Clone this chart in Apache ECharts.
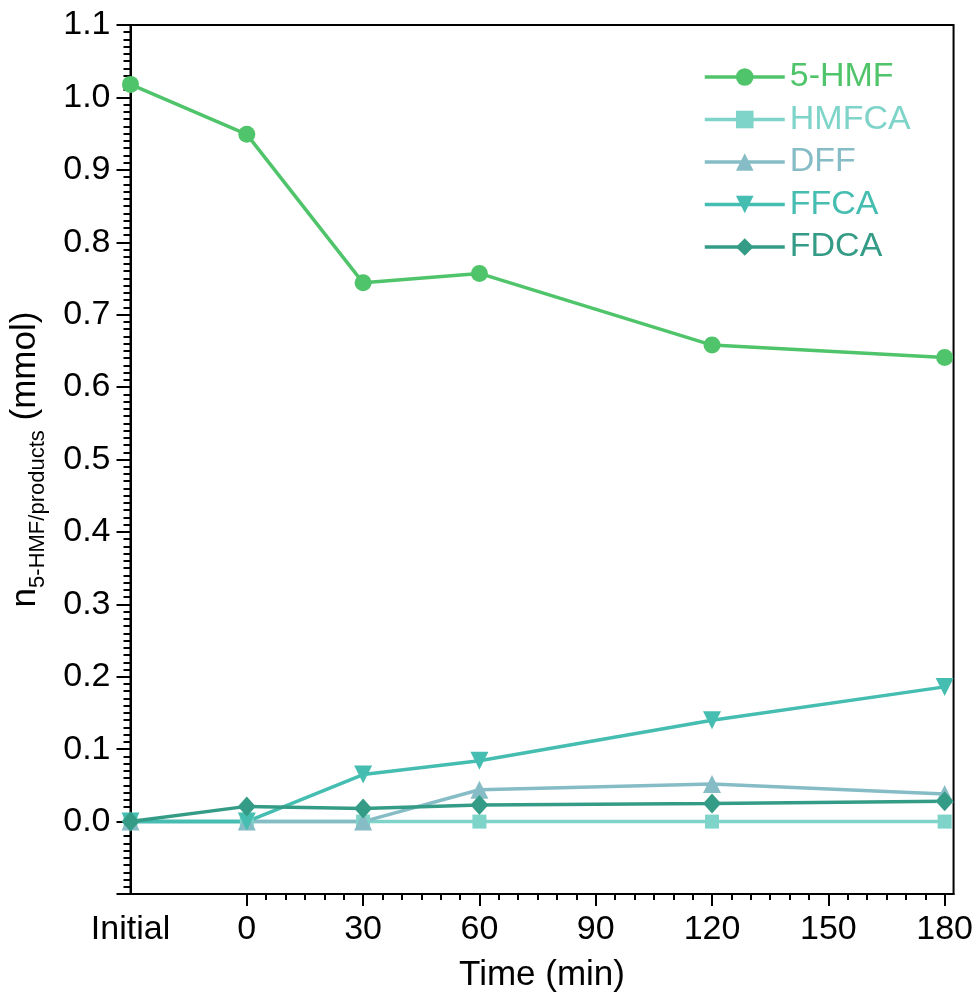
<!DOCTYPE html>
<html>
<head>
<meta charset="utf-8">
<script src="https://cdn.jsdelivr.net/npm/echarts@6/dist/echarts.min.js"></script>
<style>
html,body{margin:0;padding:0;background:#fff;}
#chart{width:976px;height:999px;}
</style>
</head>
<body>
<div id="chart"></div>
<script>
// x positions in minutes; -30 stands for the "Initial" sample
const timeValues = [-30, 0, 30, 60, 120, 180];
const seriesNames = ['5-HMF', 'HMFCA', 'DFF', 'FFCA', 'FDCA'];
const hmf   = [1.018, 0.949, 0.744, 0.757, 0.658, 0.641];
const hmfca = [0, 0, 0, 0, 0, 0];
const dff   = [0, 0, 0, 0.044, 0.052, 0.038];
const ffca  = [0, 0, 0.065, 0.084, 0.140, 0.186];
const fdca  = [0, 0.021, 0.018, 0.023, 0.025, 0.028];
const xMajorTicks = [0, 30, 60, 90, 120, 150, 180];
const xLabelValues = [-30, 0, 30, 60, 90, 120, 150, 180];
const initialLabel = 'Initial';
const colors = ['#4fc46a', '#7fd4c9', '#86bcc6', '#45bdb0', '#349c86'];

const xMinorTicks = [];
for (let i = 0; i < xMajorTicks.length - 1; i++) {
  for (let k = 1; k < 6; k++) xMinorTicks.push(xMajorTicks[i] + k * 5);
}

const FONT = '"Liberation Sans", Arial, sans-serif';
const toData = arr => timeValues.map((t, i) => [t, arr[i]]);
const values = [hmf, hmfca, dff, ffca, fdca];
const symbols = ['circle', 'rect', 'triangle', 'triangle', 'diamond'];
const symbolSizes = [17, 14, 18, 18, [18, 20]];
const rotates = [0, 0, 0, 180, 0];

const chart = echarts.init(document.getElementById('chart'), null, {renderer: 'canvas'});
const option = {
  backgroundColor: '#fff',
  animation: false,
  grid: {left: 130, right: 19, top: 25, bottom: 105, show: true, borderColor: '#000', borderWidth: 2, backgroundColor: 'transparent'},
  legend: {
    orient: 'vertical',
    left: 698,
    top: 55,
    itemWidth: 80,
    itemHeight: 22,
    itemGap: 8.5,
    lineStyle: {width: 3.5},
    textStyle: {fontSize: 34, fontFamily: FONT},
    data: seriesNames.map((n, i) => ({name: n, textStyle: {color: colors[i]}}))
  },
  xAxis: [
    {
      type: 'value', min: -30, max: 182.3, position: 'bottom',
      axisLine: {onZero: false, lineStyle: {color: '#000', width: 2}},
      splitLine: {show: false},
      axisTick: {show: true, customValues: xMajorTicks, length: 12, lineStyle: {color: '#000', width: 2}},
      minorTick: {show: false},
      axisLabel: {
        customValues: xLabelValues, color: '#000', fontSize: 34, fontFamily: FONT, margin: 19,
        formatter: v => (v < -1 ? initialLabel : String(v))
      },
      name: 'Time (min)', nameLocation: 'middle', nameGap: 64,
      nameTextStyle: {color: '#000', fontSize: 35, fontFamily: FONT}
    },
    {
      type: 'value', min: -30, max: 182.3, position: 'bottom',
      axisLine: {show: false, onZero: false},
      splitLine: {show: false},
      axisTick: {show: true, customValues: xMinorTicks, length: 6, lineStyle: {color: '#000', width: 2}},
      axisLabel: {show: false}
    }
  ],
  yAxis: {
    type: 'value', min: -0.1, max: 1.1, interval: 0.1,
    axisLine: {onZero: false, lineStyle: {color: '#000', width: 2}},
    splitLine: {show: false},
    axisTick: {show: true, length: 14, lineStyle: {color: '#000', width: 2}},
    minorTick: {show: true, splitNumber: 10, length: 7, lineStyle: {color: '#000', width: 2}},
    axisLabel: {
      color: '#000', fontSize: 34, fontFamily: FONT, margin: 20,
      formatter: v => (v < -0.05 ? '' : v.toFixed(1))
    },
    name: '{n|n}{s|5-HMF/products}{n| (mmol)}',
    nameLocation: 'middle', nameRotate: 90, nameGap: 82,
    nameTextStyle: {
      color: '#000', fontFamily: FONT,
      rich: {
        n: {fontSize: 35, fontFamily: FONT, color: '#000', lineHeight: 46, verticalAlign: 'middle'},
        s: {fontSize: 22, fontFamily: FONT, color: '#000', lineHeight: 22, verticalAlign: 'bottom'}
      }
    }
  },
  series: seriesNames.map((n, i) => ({
    name: n, type: 'line', xAxisIndex: 0,
    data: toData(values[i]),
    symbol: symbols[i], symbolSize: symbolSizes[i], symbolRotate: rotates[i],
    showAllSymbol: true,
    lineStyle: {color: colors[i], width: 3.5},
    itemStyle: {color: colors[i]},
    clip: false
  }))
};
chart.setOption(option);
</script>
</body>
</html>
